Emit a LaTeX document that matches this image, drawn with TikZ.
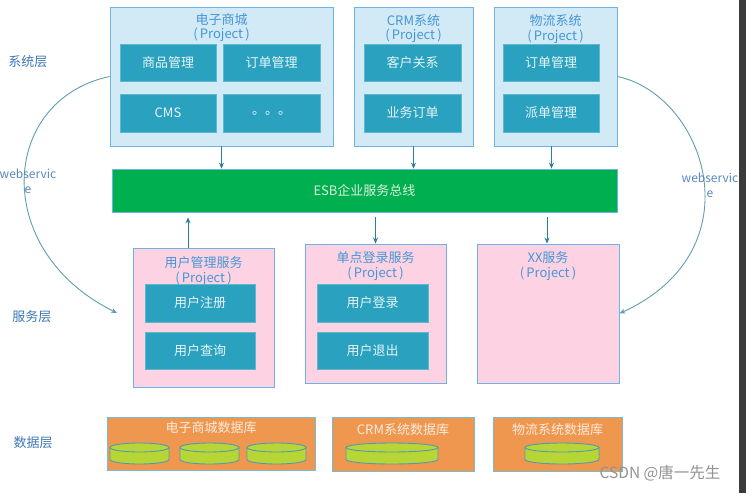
\documentclass[tikz,border=0pt]{standalone}
\usepackage{fontspec}
\setmainfont{Noto Sans CJK SC}
\usetikzlibrary{arrows.meta}
\definecolor{projfill}{HTML}{D2EAF6}
\definecolor{projdraw}{HTML}{6DB3E3}
\definecolor{modfill}{HTML}{2AA1BE}
\definecolor{modtext}{HTML}{E6F4F8}
\definecolor{titleblue}{HTML}{4596D6}
\definecolor{svcfill}{HTML}{FDD3E3}
\definecolor{esbfill}{HTML}{00AF50}
\definecolor{esbtext}{HTML}{DDF0DD}
\definecolor{dbfill}{HTML}{F0974F}
\definecolor{dbdraw}{HTML}{75BCD3}
\definecolor{dbtext}{HTML}{FBEBDD}
\definecolor{diskfill}{HTML}{B8D536}
\definecolor{diskdraw}{HTML}{4F9AB5}
\definecolor{arrowc}{HTML}{2E7E9B}
\definecolor{curvec}{HTML}{5E9FAE}
\definecolor{layerc}{HTML}{3C78B4}
\definecolor{wsc}{HTML}{5A86C0}
\definecolor{stripc}{HTML}{3B3B3B}
\newcommand{\dbdisk}[2]{%
  \fill[diskfill] ({#1-#2},447.5) -- ({#1-#2},459.5) arc[start angle=180,end angle=360,x radius=#2pt,y radius=4.5pt] -- ({#1+#2},447.5) arc[start angle=0,end angle=180,x radius=#2pt,y radius=4.5pt] -- cycle;
  \draw[diskdraw,line width=0.9pt] ({#1-#2},447.5) -- ({#1-#2},459.5) arc[start angle=180,end angle=360,x radius=#2pt,y radius=4.5pt] -- ({#1+#2},447.5);
  \draw[diskdraw,line width=0.9pt] (#1,447.5) ellipse[x radius=#2pt,y radius=4.5pt];
}
\begin{document}
\begin{tikzpicture}[x=1pt,y=-1pt,
  every node/.style={font=\fontsize{13}{15}\selectfont, inner sep=0pt},
  proj/.style={fill=projfill, draw=projdraw, line width=0.9pt},
  svc/.style={fill=svcfill, draw=projdraw, line width=0.9pt},
  mod/.style={fill=modfill, draw=modfill!75!white, line width=0.5pt, text=modtext},
  ttl/.style={text=titleblue},
  esbbox/.style={fill=esbfill, draw=projdraw, line width=0.8pt, text=esbtext},
  dbbox/.style={fill=dbfill, draw=dbdraw, line width=0.9pt},
  dbttl/.style={text=dbtext},
  layer/.style={text=layerc},
  wslabel/.style={text=wsc, align=center, font=\fontsize{12}{15}\selectfont},
  arr/.style={draw=arrowc, line width=0.9pt, -{Stealth[length=6pt,width=5pt]}},
  curve/.style={draw=curvec, line width=0.9pt, -{Stealth[length=6pt,width=5pt]}}
]
\useasboundingbox (0,0) rectangle (746,493);
\fill[white] (0,0) rectangle (746,493);
\fill[stripc] (739,0) rectangle (746,493);

% layer labels
\node[layer] (l1) at (28,62) {系统层};
\node[layer] (l2) at (32,317) {服务层};
\node[layer] (l3) at (33,443) {数据层};

% system layer
\node[proj, minimum width=223pt, minimum height=139pt] (shopP) at (221.5,76.5) {};
\node[ttl] (shopT1) at (221.5,20) {电子商城};
\node[ttl] (shopT2) at (221.5,35) {(\,Project\,)};
\node[mod, minimum width=96pt, minimum height=37pt] (m1) at (168,62.5) {商品管理};
\node[mod, minimum width=97pt, minimum height=37pt] (m2) at (271.5,62.5) {订单管理};
\node[mod, minimum width=96pt, minimum height=38pt] (m3) at (168,113) {CMS};
\node[mod, minimum width=97pt, minimum height=38pt] (m4) at (271.5,113) {。。。};

\node[proj, minimum width=119pt, minimum height=139pt] (crmP) at (413.5,76.5) {};
\node[ttl] (crmT1) at (413.5,21) {CRM系统};
\node[ttl] (crmT2) at (413.5,36) {(\,Project\,)};
\node[mod, minimum width=97pt, minimum height=37pt] (m5) at (412.5,62.5) {客户关系};
\node[mod, minimum width=97pt, minimum height=38pt] (m6) at (412.5,113) {业务订单};

\node[proj, minimum width=123pt, minimum height=139pt] (wlP) at (555.5,76.5) {};
\node[ttl] (wlT1) at (555.5,21) {物流系统};
\node[ttl] (wlT2) at (555.5,37) {(\,Project\,)};
\node[mod, minimum width=96pt, minimum height=37pt] (m7) at (551,62.5) {订单管理};
\node[mod, minimum width=96pt, minimum height=38pt] (m8) at (551,113) {派单管理};

% ESB
\node[esbbox, minimum width=505pt, minimum height=43pt] (esb) at (364.5,190.5) {ESB企业服务总线};

% service layer
\node[svc, minimum width=141pt, minimum height=139pt] (umgr) at (203.5,317.5) {};
\node[ttl] (umgrT1) at (203.5,263) {用户管理服务};
\node[ttl] (umgrT2) at (203.5,279) {(\,Project\,)};
\node[mod, minimum width=110pt, minimum height=38pt] (s1) at (200,303) {用户注册};
\node[mod, minimum width=110pt, minimum height=37pt] (s2) at (200,350.5) {用户查询};

\node[svc, minimum width=141pt, minimum height=139pt] (sso) at (375.5,313.5) {};
\node[ttl] (ssoT1) at (375.5,258) {单点登录服务};
\node[ttl] (ssoT2) at (375.5,274) {(\,Project\,)};
\node[mod, minimum width=111pt, minimum height=38pt] (s3) at (372.5,303) {用户登录};
\node[mod, minimum width=111pt, minimum height=37pt] (s4) at (372.5,350.5) {用户退出};

\node[svc, minimum width=142pt, minimum height=139pt] (xx) at (548,313.5) {};
\node[ttl] (xxT1) at (548,258) {XX服务};
\node[ttl] (xxT2) at (548,274) {(\,Project\,)};

% data layer
\node[dbbox, minimum width=208pt, minimum height=53pt] (db1) at (211,443.5) {};
\node[dbttl] (db1T) at (211,428) {电子商城数据库};
\node[dbbox, minimum width=142pt, minimum height=54pt] (db2) at (403,444) {};
\node[dbttl] (db2T) at (403,430) {CRM系统数据库};
\node[dbbox, minimum width=129pt, minimum height=54pt] (db3) at (557.5,444) {};
\node[dbttl] (db3T) at (557.5,430) {物流系统数据库};
\dbdisk{139.5}{29.5}
\dbdisk{209.5}{29.5}
\dbdisk{276.5}{29.5}
\dbdisk{392}{46}
\dbdisk{562}{37}

% arrows to/from ESB
\coordinate (a3) at ([xshift=-4pt]wlP.south);
\draw[arr] (shopP.south) -- (shopP.south |- esb.north);
\draw[arr] (crmP.south) -- (crmP.south |- esb.north);
\draw[arr] (a3) -- (a3 |- esb.north);
\coordinate (u1) at ([xshift=-15.5pt]umgr.north);
\draw[arr] (u1) -- ([yshift=-5pt]u1 |- esb.south);
\coordinate (d1) at (sso.north);
\draw[arr] ([yshift=-5pt]d1 |- esb.south) -- (d1);
\coordinate (d2) at ([xshift=-1pt]xx.north);
\draw[arr] ([yshift=-5pt]d2 |- esb.south) -- (d2);

% webservice curves
\coordinate (wsLend) at (117,313);
\draw[curve] (shopP.west) .. controls (0,100) and (-10,250) .. (wsLend);
\node[wslabel] (wsL) at (28,181) {webservic\\e};
\draw[curve] (wlP.east) .. controls (705,95) and (758,250) .. (xx.east);
\node[wslabel] (wsR) at (710,185) {webservic\\e};

% watermark
\node[text=gray!85, font=\fontsize{15.5}{17}\selectfont] (wm) at (660,473) {CSDN @唐一先生};
\end{tikzpicture}
\end{document}
